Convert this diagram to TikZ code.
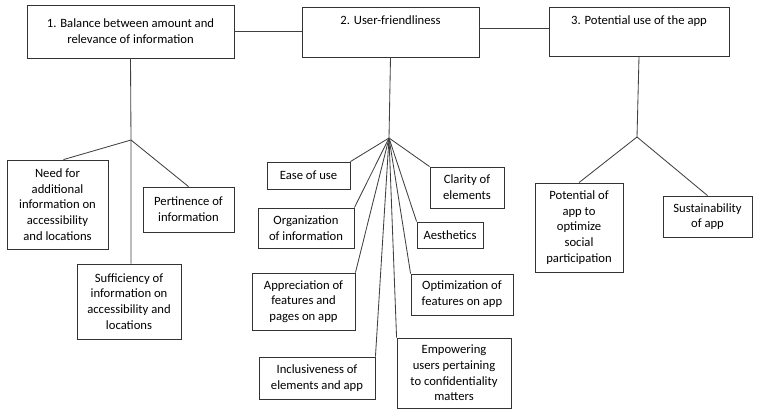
\documentclass[tikz,border=0pt]{standalone}
\usepackage{fontspec}
\setmainfont{Carlito}
\usepackage{tikz}
\usetikzlibrary{positioning}

\begin{document}
\begin{tikzpicture}[x=0.025cm, y=-0.025cm,
  box/.style={rectangle, draw=black!80, line width=0.6pt, align=center,
              font=\fontsize{9}{11.2}\selectfont, inner sep=1pt, fill=white},
  link/.style={draw=black!75, line width=0.6pt},
]
  \useasboundingbox (0,0) rectangle (760,416);

  % three themes
  \node[box, minimum width=5.175cm, minimum height=1.325cm] (bal) at (130.5,31.5)
    {1. Balance between amount and\\relevance of information};
  \node[box, minimum width=4.425cm, minimum height=1.25cm, text height=10pt, text depth=20pt] (user) at (390.5,32)
    {2. User-friendliness};
  \node[box, minimum width=4.5cm, minimum height=1.225cm, text height=10pt, text depth=20pt] (pot) at (639,31.5)
    {3. Potential use of the app};
  \draw[link] (bal.east) -- (bal.east -| user.west);
  \draw[link] ([yshift=0.1cm]user.east) -- ([yshift=0.1cm]user.east -| pot.west);

  % branch points
  \coordinate (h1) at (131,140);
  \coordinate (h2) at (389,138);
  \coordinate (h3) at (637,137);

  % theme 1
  \node[box, minimum width=2.525cm, minimum height=2.225cm] (need) at (57.5,204.5)
    {Need for\\additional\\information on\\accessibility\\and locations};
  \node[box, minimum width=2.275cm, minimum height=1.125cm] (pert) at (188.5,209.5)
    {Pertinence of\\information};
  \node[box, minimum width=2.6cm, minimum height=1.875cm] (suff) at (129,301.5)
    {Sufficiency of\\information on\\accessibility and\\locations};
  \draw[link] (bal.south) -- (h1) -- (h1 |- suff.north);
  \draw[link] (h1) -- ([xshift=0.15cm]need.north);
  \draw[link] (h1) -- (pert.north);

  % theme 2
  \node[box, minimum width=2.075cm, minimum height=0.675cm] (ease) at (308.5,175.5)
    {Ease of use};
  \node[box, minimum width=1.85cm, minimum height=1.025cm] (clar) at (467,187.5)
    {Clarity of\\elements};
  \node[box, minimum width=2.4cm, minimum height=1.0cm] (org) at (306,228)
    {Organization\\of information};
  \node[box, minimum width=1.65cm, minimum height=0.65cm] (aes) at (450,235)
    {Aesthetics};
  \node[box, minimum width=2.575cm, minimum height=1.425cm] (appr) at (303.5,301.5)
    {Appreciation of\\features and\\pages on app};
  \node[box, minimum width=2.55cm, minimum height=1.025cm] (opt) at (462,294.5)
    {Optimization of\\features on app};
  \node[box, minimum width=2.9cm, minimum height=1.05cm] (incl) at (317,378)
    {Inclusiveness of\\elements and app};
  \node[box, minimum width=2.85cm, minimum height=1.75cm] (emp) at (454,373)
    {Empowering\\users pertaining\\to confidentiality\\matters};
  \draw[link] (user.south) -- (h2);
  \draw[link] (h2) -- (ease.north east);
  \draw[link] (h2) -- (clar.north west);
  \draw[link] (h2) -- (org.north east);
  \draw[link] (h2) -- (aes.north west);
  \draw[link] (h2) -- (appr.north east);
  \draw[link] (h2) -- (opt.north west);
  \draw[link] (h2) -- (incl.north east);
  \draw[link] (h2) -- (emp.north west);

  % theme 3
  \node[box, minimum width=2.2cm, minimum height=2.225cm] (opti) at (579,227.5)
    {Potential of\\app to\\optimize\\social\\participation};
  \node[box, minimum width=2.225cm, minimum height=1.025cm] (sust) at (707.5,216.5)
    {Sustainability\\of app};
  \draw[link] (pot.south) -- (h3);
  \draw[link] (h3) -- (opti.north);
  \draw[link] (h3) -- (sust.north);
\end{tikzpicture}
\end{document}
